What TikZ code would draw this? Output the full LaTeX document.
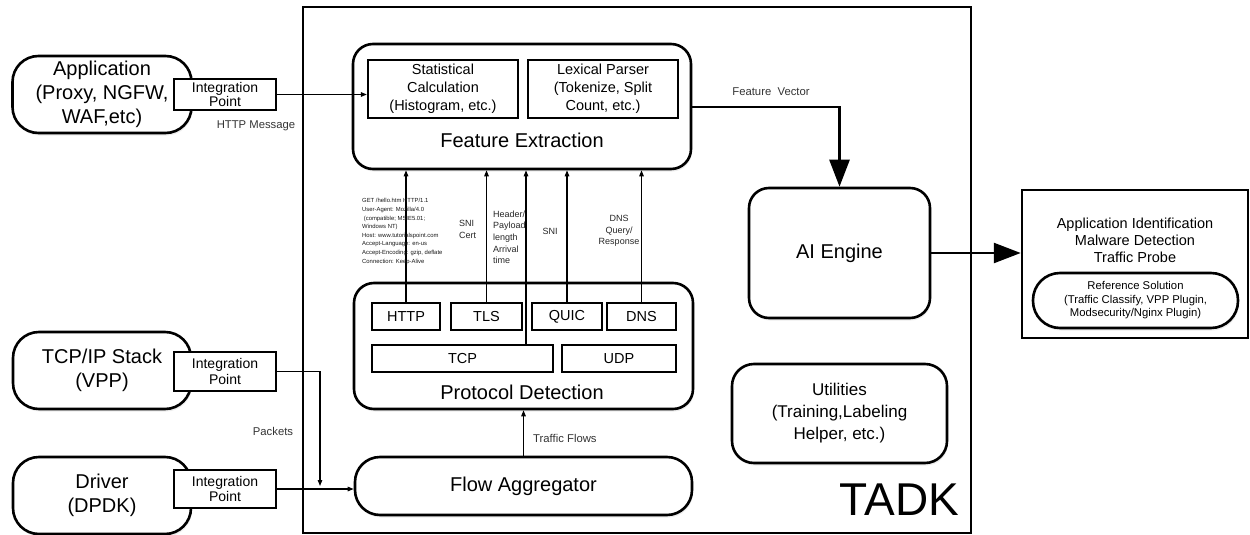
\documentclass[tikz,border=0pt]{standalone}
\usepackage{fontspec}
\setmainfont{Liberation Sans}
\usetikzlibrary{arrows.meta,shadows}
\begin{document}
\begin{tikzpicture}[x=1pt,y=-1pt,
  shad/.style={drop shadow={shadow xshift=1pt,shadow yshift=-2.5pt,opacity=0.15}},
  rbox/.style={draw,line width=2.6pt,rounded corners=20pt,fill=white,align=center,inner sep=0pt,shad,font=\fontsize{20}{24}\selectfont},
  ibox/.style={draw,line width=2.3pt,fill=white,align=center,inner sep=0pt,font=\fontsize{14.5}{18}\selectfont},
  ipbox/.style={draw,line width=2.3pt,fill=white,align=center,inner sep=0pt,minimum width=102pt,font=\fontsize{14}{15.5}\selectfont},
  lab/.style={inner sep=0pt,text=black!80,font=\fontsize{11.3}{13}\selectfont},
  slab/.style={inner sep=0pt,text=black!85,align=left,font=\fontsize{9}{11.6}\selectfont},
  arr/.style={line width=1.2pt,-{Triangle[length=6pt,width=4.5pt]}},
  bigarr/.style={line width=2.6pt,-{Triangle[length=27pt,width=20pt]}}
]
\useasboundingbox (0,0) rectangle (1250,535);
% TADK frame
\node[draw,line width=2pt,minimum width=668pt,minimum height=526pt,inner sep=0pt] (tadk) at (637,270) {};
\node[anchor=base,inner sep=0pt,font=\fontsize{46}{46}\selectfont] (tadklab) at (899.5,515) {TADK};

% left sources
\node[rbox,rounded corners=26pt,minimum width=179pt,minimum height=77pt] (app) at (102,94.5) {Application\\(Proxy, NGFW,\\WAF,etc)};
\node[rbox,rounded corners=26pt,minimum width=178pt,minimum height=77pt] (tcpip) at (102,370.5) {TCP/IP Stack\\(VPP)};
\node[rbox,rounded corners=26pt,minimum width=178pt,minimum height=77pt] (driver) at (102,495.5) {Driver\\(DPDK)};
\node[ipbox,minimum height=31pt,font=\fontsize{14}{13.5}\selectfont] (ip1) at (225,94.5) {Integration\\Point};
\node[ipbox,minimum height=39pt] (ip2) at (225,371.5) {Integration\\Point};
\node[ipbox,minimum height=38pt] (ip3) at (225,489) {Integration\\Point};

% feature extraction
\node[rbox,minimum width=338pt,minimum height=125pt] (fe) at (522,106.5) {};
\node[inner sep=0pt,font=\fontsize{20}{24}\selectfont] (felab) at (522,140) {Feature Extraction};
\node[ibox,minimum width=150pt,minimum height=58pt] (stat) at (443,89) {Statistical\\Calculation\\(Histogram, etc.)};
\node[ibox,minimum width=150pt,minimum height=58pt] (lex) at (603,89) {Lexical Parser\\(Tokenize, Split\\Count, etc.)};

% protocol detection
\node[rbox,minimum width=339pt,minimum height=126pt] (pd) at (523.5,346) {};
\node[inner sep=0pt,font=\fontsize{20}{24}\selectfont] (pdlab) at (522,392) {Protocol Detection};
\node[ibox,minimum width=68pt,minimum height=27pt] (http) at (406,316.5) {HTTP};
\node[ibox,minimum width=71pt,minimum height=27pt] (tls) at (486.5,316.5) {TLS};
\node[ibox,minimum width=70pt,minimum height=27pt] (quic) at (567,316.5) {QUIC};
\node[ibox,minimum width=69pt,minimum height=27pt] (dns) at (641.5,316.5) {DNS};
\node[ibox,minimum width=181pt,minimum height=27pt] (tcp) at (462.5,358.5) {TCP};
\node[ibox,minimum width=114pt,minimum height=27pt] (udp) at (619,358.5) {UDP};

% flow aggregator, AI engine, utilities
\node[rbox,rounded corners=25pt,minimum width=337pt,minimum height=58pt] (fa) at (523.5,486) {Flow Aggregator};
\node[rbox,minimum width=181pt,minimum height=130pt] (ai) at (839.5,253) {AI Engine};
\node[rbox,rounded corners=22pt,minimum width=215pt,minimum height=99pt,font=\fontsize{17}{22}\selectfont] (util) at (839.5,413.5) {Utilities\\(Training,Labeling\\Helper, etc.)};

% output box
\node[draw,line width=2.5pt,fill=white,minimum width=226pt,minimum height=148pt,inner sep=0pt] (out) at (1135,264) {};
\node[inner sep=0pt,align=center,font=\fontsize{14.5}{17}\selectfont] (outlab) at (1135,240) {Application Identification\\Malware Detection\\Traffic Probe};
\node[rbox,rounded corners=27pt,minimum width=205pt,minimum height=55pt,font=\fontsize{11.3}{13.5}\selectfont] (ref) at (1135.5,300.5) {Reference Solution\\(Traffic Classify, VPP Plugin,\\Modsecurity/Nginx Plugin)};

% connectors
\coordinate (pk) at (320,486);
\draw[arr] (ip1.east) -- (ip1.east -| stat.west);
\draw[arr] (ip2.east) -| (pk);
\draw[arr] (ip3.east) -- (ip3.east -| fa.west);
\draw[arr] (fa.north) -- (pd.south);
\draw[arr] (http.north) -- (http.north |- fe.south);
\draw[arr] (tls.north) -- (tls.north |- fe.south);
\draw[arr] ([xshift=63.5pt]tcp.north) -- ([xshift=63.5pt]tcp.north |- fe.south);
\draw[arr] (quic.north) -- (quic.north |- fe.south);
\draw[arr] (dns.north) -- (dns.north |- fe.south);
\draw[bigarr] (fe.east |- 0,107) -| (ai.north);
\draw[bigarr] (ai.east) -- (ai.east -| out.west);

% labels
\node[lab] (lhttp) at (256,126) {HTTP Message};
\node[lab] (lpk) at (273,431) {Packets};
\node[lab,anchor=west] (ltf) at (533,438) {Traffic Flows};
\node[lab] (lfv) at (771,92) {Feature\ \ Vector};
\node[inner sep=0pt,anchor=north west,align=left,text=black!90,font=\fontsize{5.9}{8.6}\selectfont] (hdr) at (362,198.5) {GET /hello.htm HTTP/1.1\\User-Agent: Mozilla/4.0\\\ (compatible; MSIE5.01;\\Windows NT)\\Host: www.tutorialspoint.com\\Accept-Language: en-us\\Accept-Encoding: gzip, deflate\\Connection: Keep-Alive};
\node[slab,anchor=west] (lsni) at (459,229.5) {SNI\\Cert};
\node[slab,anchor=north west] (lhead) at (493,210.5) {Header/\\Payload\\length\\Arrival\\time};
\node[slab] (lsni2) at (550,231) {SNI};
\node[slab,align=center] (ldns) at (619,231) {DNS\\Query/\\Response};
\end{tikzpicture}
\end{document}
